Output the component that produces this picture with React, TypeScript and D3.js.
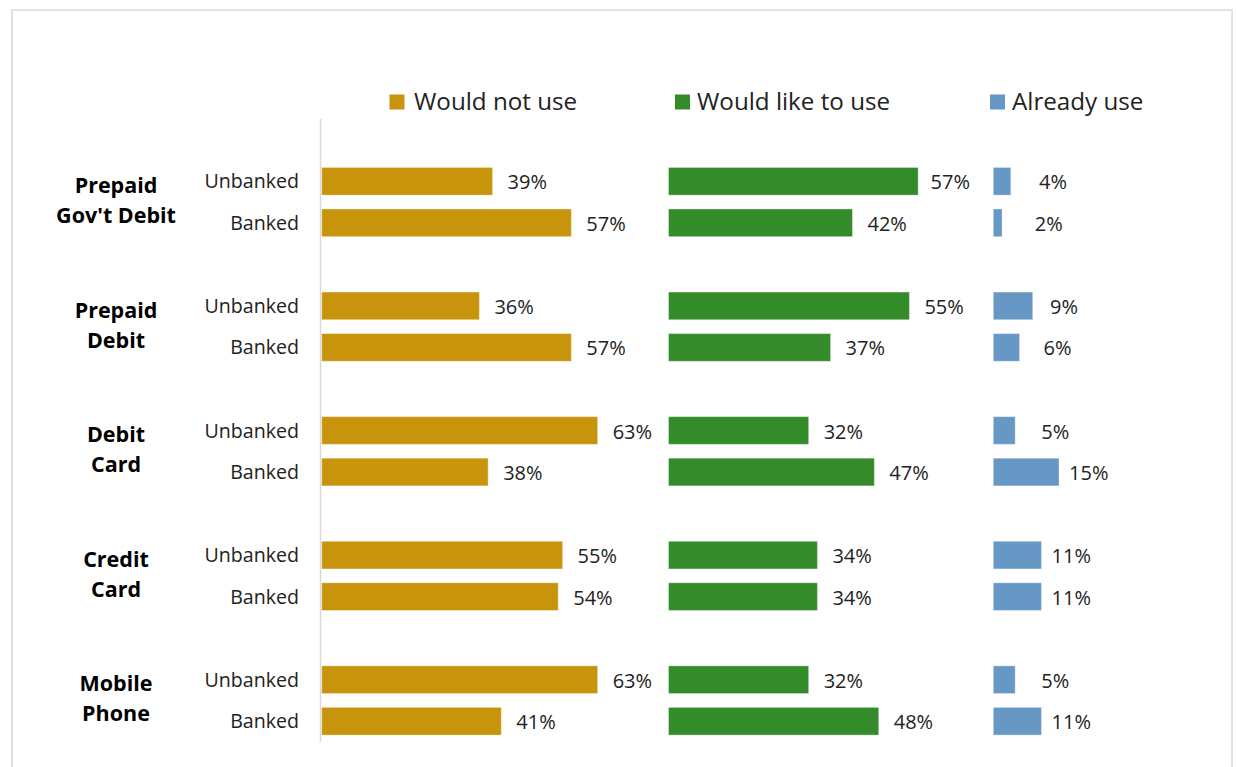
import React from "react";
import * as d3 from "d3";

const categories = ["Prepaid|Gov't Debit", "Prepaid|Debit", "Debit|Card", "Credit|Card", "Mobile|Phone"];
const segments = ["Unbanked", "Banked"];
const seriesNames = ["Would not use", "Would like to use", "Already use"];
const wouldNotUse = [39, 57, 36, 57, 63, 38, 55, 54, 63, 41];
const wouldLikeToUse = [57, 42, 55, 37, 32, 47, 34, 34, 32, 48];
const alreadyUse = [4, 2, 9, 6, 5, 15, 11, 11, 5, 11];

const W = 1237;
const H = 767;
const COLORS = ["#C8940C", "#348B2A", "#6798C5"];
const FONT = "'Open Sans', sans-serif";
const TEXT = "#222222";

export default function App() {
  const seriesValues = [wouldNotUse, wouldLikeToUse, alreadyUse];

  // slots: blank, Unbanked, Banked per category
  const slots: string[] = [];
  categories.forEach((c, ci) => {
    slots.push(`blank-${ci}`);
    segments.forEach((s) => slots.push(`${ci}-${s}`));
  });

  const y = d3
    .scaleBand<string>()
    .domain(slots)
    .range([119, 742])
    .paddingInner(1 / 3)
    .paddingOuter(1 / 6);

  const x = d3.scaleLinear().domain([0, 100]).range([0, 438]);
  const panelX = [321.7, 668.5, 993.3];
  const blueSpacerEnd = panelX[2] + x(23.3);
  const greenLabelMax = 970;

  const bw = y.bandwidth();
  const valueFont = 20;
  const estW = (t: string) => t.length * 0.66 * valueFont;

  const legendItems = [
    { sq: 389.5, tx: 414 },
    { sq: 675, tx: 697 },
    { sq: 990, tx: 1012 },
  ];

  return (
    <svg
      width={W}
      height={H}
      style={{ position: "absolute", left: 0, top: 0, display: "block", background: "#fff" }}
      fontFamily={FONT}
    >
      <rect x={12} y={10} width={1220} height={780} fill="#fff" stroke="#D9D9D9" strokeWidth={1.5} />

      {/* legend */}
      {seriesNames.map((name, i) => (
        <g key={name}>
          <rect x={legendItems[i].sq} y={94.5} width={15} height={15} fill={COLORS[i]} />
          <text x={legendItems[i].tx} y={110} fontSize={24.2} fill={TEXT}>
            {name}
          </text>
        </g>
      ))}

      {/* axis line */}
      <line x1={320.5} x2={320.5} y1={119} y2={742} stroke="#D9D9D9" strokeWidth={1.5} />

      {/* category labels */}
      {categories.map((c, ci) => {
        const y1 = y(`${ci}-Unbanked`)! + bw / 2;
        const y2 = y(`${ci}-Banked`)! + bw / 2;
        const mid = (y1 + y2) / 2;
        const lines = c.split("|");
        return (
          <text key={c} x={116} textAnchor="middle" fontSize={21.5} fontWeight="bold" fill="#000">
            <tspan x={116} y={mid - 9}>
              {lines[0]}
            </tspan>
            <tspan x={116} y={mid + 21}>
              {lines[1]}
            </tspan>
          </text>
        );
      })}

      {/* segment labels */}
      {categories.map((c, ci) =>
        segments.map((s) => (
          <text
            key={`${ci}-${s}`}
            x={299}
            y={y(`${ci}-${s}`)! + bw / 2 + 7}
            textAnchor="end"
            fontSize={19.6}
            fill={TEXT}
          >
            {s}
          </text>
        ))
      )}

      {/* bars and labels */}
      {seriesValues.map((vals, si) => (
        <g key={si}>
          {vals.map((v, k) => {
            const ci = Math.floor(k / 2);
            const seg = segments[k % 2];
            const top = y(`${ci}-${seg}`)!;
            const x0 = panelX[si];
            const end = x0 + x(v);
            const label = `${v}%`;
            const lw = estW(label);
            let lx: number;
            let anchor: "start" | "middle" | "end" = "start";
            if (si === 2) {
              lx = Math.max((end + blueSpacerEnd) / 2, end + 10 + lw / 2);
              anchor = "middle";
            } else if (si === 1 && end + 15 + lw > greenLabelMax) {
              lx = greenLabelMax;
              anchor = "end";
            } else {
              lx = end + 15;
            }
            return (
              <g key={k}>
                <rect
                  x={x0}
                  y={top}
                  width={x(v)}
                  height={bw}
                  fill={COLORS[si]}
                  stroke="#ffffff"
                  strokeOpacity={0.35}
                  strokeWidth={1}
                />
                <text x={lx} y={top + bw / 2 + 8} textAnchor={anchor} fontSize={valueFont} fill={TEXT}>
                  {label}
                </text>
              </g>
            );
          })}
        </g>
      ))}
    </svg>
  );
}
